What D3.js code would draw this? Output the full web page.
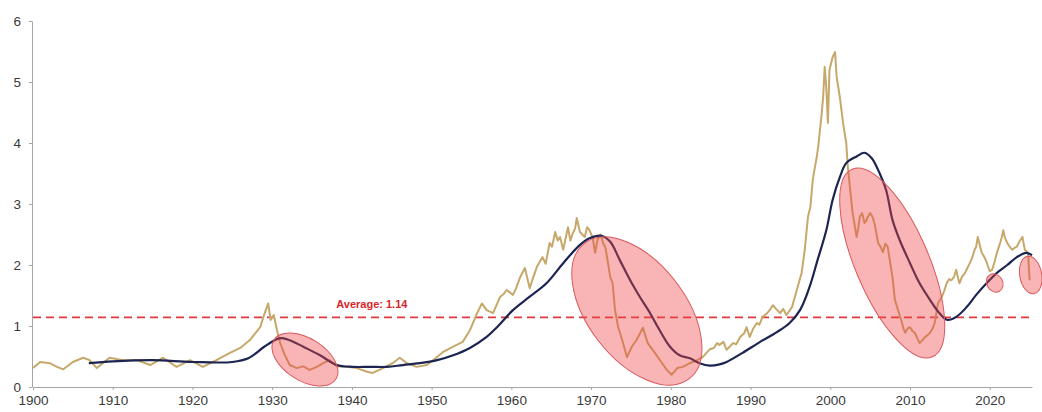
<!DOCTYPE html>
<html>
<head>
<meta charset="utf-8">
<script src="https://cdn.jsdelivr.net/npm/d3@7"></script>
<style>
  html, body { margin: 0; padding: 0; background: #ffffff; }
  svg { display: block; }
  text { font-family: "Liberation Sans", Arial, sans-serif; }
</style>
</head>
<body>
<svg id="chart" width="1042" height="412"></svg>
<script>
// ---------- data ----------
const goldYears = [1900.0,1900.9,1902.1,1903.0,1903.8,1905.0,1906.3,1907.1,1908.0,1909.6,1911.3,1913.0,1914.7,1916.3,1918.0,1919.7,1921.3,1923.0,1924.7,1926.0,1927.2,1928.5,1928.9,1929.5,1929.8,1930.2,1930.6,1931.0,1931.6,1932.2,1933.1,1933.9,1934.7,1935.6,1936.4,1937.2,1938.1,1939.4,1940.6,1941.9,1942.6,1943.9,1945.1,1946.0,1946.9,1948.1,1949.4,1950.2,1951.4,1952.7,1953.9,1954.8,1955.7,1956.3,1956.9,1957.7,1958.6,1959.0,1959.4,1960.2,1960.6,1961.1,1961.7,1962.3,1962.7,1963.2,1963.9,1964.3,1964.8,1965.1,1965.5,1965.8,1966.1,1966.5,1967.1,1967.4,1967.7,1968.0,1968.2,1968.6,1969.2,1969.5,1969.8,1970.2,1970.5,1970.8,1971.2,1971.5,1971.8,1972.0,1972.4,1972.7,1973.0,1973.4,1973.9,1974.5,1975.1,1975.7,1976.5,1977.1,1978.0,1978.9,1979.5,1980.1,1980.8,1981.5,1982.4,1983.3,1984.0,1984.9,1985.4,1985.8,1986.1,1986.6,1987.0,1987.8,1988.2,1988.7,1989.2,1989.5,1989.9,1990.3,1990.8,1991.1,1991.5,1992.0,1992.4,1992.8,1993.2,1993.7,1994.1,1994.5,1995.2,1995.8,1996.4,1996.8,1997.2,1997.5,1997.8,1998.0,1998.3,1998.5,1998.7,1998.9,1999.1,1999.3,1999.5,1999.7,1999.9,2000.3,2000.6,2000.8,2001.2,2001.6,2002.0,2002.2,2002.8,2003.0,2003.3,2003.5,2003.7,2004.0,2004.3,2004.5,2004.7,2005.0,2005.3,2005.6,2006.0,2006.3,2006.6,2006.9,2007.2,2007.5,2007.8,2008.1,2008.5,2009.0,2009.2,2009.4,2009.7,2010.0,2010.3,2010.6,2011.2,2011.5,2011.9,2012.2,2012.5,2012.8,2013.1,2013.5,2014.0,2014.3,2014.6,2014.9,2015.2,2015.5,2015.8,2016.0,2016.2,2016.5,2016.9,2017.2,2017.5,2017.8,2018.1,2018.3,2018.5,2018.8,2019.0,2019.2,2019.4,2019.6,2019.8,2020.0,2020.3,2020.6,2020.9,2021.1,2021.3,2021.5,2021.7,2021.9,2022.2,2022.5,2022.8,2023.1,2023.4,2023.7,2024.1,2024.25,2024.4,2024.8,2025.0];
const goldValues = [0.31,0.41,0.39,0.33,0.29,0.41,0.48,0.44,0.31,0.48,0.44,0.44,0.36,0.48,0.33,0.44,0.33,0.44,0.56,0.64,0.77,0.98,1.15,1.37,1.10,1.18,0.93,0.72,0.52,0.36,0.31,0.34,0.28,0.33,0.39,0.44,0.34,0.33,0.31,0.25,0.23,0.31,0.39,0.48,0.39,0.33,0.36,0.44,0.57,0.66,0.74,0.93,1.21,1.37,1.26,1.21,1.48,1.52,1.59,1.51,1.62,1.80,1.95,1.62,1.78,1.97,2.13,2.02,2.36,2.30,2.54,2.40,2.46,2.25,2.62,2.40,2.52,2.60,2.77,2.54,2.46,2.62,2.57,2.45,2.20,2.41,2.50,2.36,2.28,2.13,1.80,1.70,1.26,0.98,0.77,0.49,0.66,0.77,0.97,0.72,0.56,0.39,0.28,0.20,0.31,0.33,0.39,0.44,0.49,0.62,0.64,0.72,0.69,0.74,0.61,0.72,0.70,0.82,0.88,0.98,0.82,0.95,1.05,1.02,1.15,1.20,1.26,1.34,1.28,1.21,1.28,1.18,1.31,1.59,1.87,2.25,2.79,2.95,3.39,3.55,3.77,3.95,4.21,4.45,4.75,5.25,4.90,4.33,5.20,5.41,5.49,5.08,4.75,4.33,4.00,3.61,2.85,2.70,2.46,2.60,2.79,2.85,2.69,2.72,2.79,2.85,2.79,2.65,2.36,2.30,2.21,2.35,2.30,2.05,1.80,1.43,1.26,1.05,0.95,0.89,0.96,0.98,0.92,0.89,0.72,0.76,0.82,0.85,0.89,0.95,1.05,1.37,1.48,1.58,1.70,1.77,1.75,1.80,1.92,1.80,1.70,1.80,1.87,1.95,2.03,2.12,2.25,2.30,2.46,2.30,2.20,2.16,2.11,2.05,1.97,1.90,1.92,2.05,2.20,2.28,2.36,2.45,2.57,2.45,2.36,2.30,2.25,2.28,2.30,2.38,2.46,2.35,2.25,2.20,1.75];

const avgYears = [1907.0,1910.0,1915.0,1920.0,1925.0,1927.0,1929.0,1930.5,1931.2,1932.5,1933.9,1936.0,1938.1,1940.1,1942.3,1944.4,1946.4,1948.5,1950.7,1952.7,1954.8,1956.9,1958.2,1960.2,1962.3,1964.4,1966.5,1968.6,1969.8,1971.3,1972.4,1973.6,1974.9,1976.1,1977.4,1978.6,1979.9,1981.1,1982.4,1983.6,1984.9,1986.1,1987.0,1989.0,1991.2,1993.3,1994.9,1996.2,1997.4,1998.4,1999.5,2000.3,2001.2,2002.0,2003.3,2004.3,2005.2,2006.2,2007.0,2007.8,2008.7,2010.0,2011.2,2012.5,2013.7,2014.7,2015.8,2017.1,2018.3,2019.6,2020.9,2022.2,2023.4,2024.6,2025.3];
const avgValues = [0.39,0.42,0.44,0.41,0.41,0.47,0.66,0.78,0.80,0.75,0.66,0.52,0.36,0.33,0.33,0.33,0.36,0.39,0.44,0.52,0.64,0.82,0.98,1.26,1.48,1.70,2.03,2.33,2.44,2.48,2.38,2.08,1.75,1.48,1.21,0.93,0.66,0.52,0.47,0.39,0.35,0.37,0.41,0.56,0.74,0.90,1.05,1.26,1.64,2.08,2.57,3.07,3.44,3.67,3.78,3.84,3.75,3.50,3.23,2.74,2.41,2.03,1.70,1.43,1.21,1.10,1.15,1.31,1.51,1.70,1.87,2.00,2.13,2.20,2.16];

const averageValue = 1.14;
const averageLabel = "Average: 1.14";
const averageLabelYear = 1942.5;

const xTicks = [1900,1910,1920,1930,1940,1950,1960,1970,1980,1990,2000,2010,2020];
const yTicks = [0,1,2,3,4,5,6];

// highlighted episodes: centre (year, value), end of major axis (year, value), minor/major ratio
const highlightCenters = [[1934.11,0.451],[1975.74,1.246],[2007.77,2.033],[2020.63,1.705],[2025.14,1.836]];
const highlightTips    = [[1938.00,0.130],[1982.31,0.136],[2012.81,0.495],[2021.22,1.570],[2025.55,1.530]];
const highlightRatios  = [0.575,0.569,0.36,0.84,0.58];

// ---------- drawing ----------
const svg = d3.select("#chart");
const x = d3.scaleLinear().domain([1900, 2025.3]).range([33, 1032]);
const y = d3.scaleLinear().domain([0, 6]).range([387, 21]);

const axisColor = "#a6a6a6";
const labelColor = "#3a3a3a";

// x axis
const xAxis = svg.append("g").attr("transform", `translate(0,${y(0)})`)
  .call(d3.axisBottom(x).tickValues(xTicks).tickFormat(d3.format("d")).tickSize(3).tickSizeOuter(0));
xAxis.select(".domain").attr("stroke", axisColor);
xAxis.selectAll(".tick line").attr("stroke", axisColor);
xAxis.selectAll(".tick text").attr("fill", labelColor).attr("font-size", 13.5).attr("dy", "0.92em");

// y axis
const yAxis = svg.append("g").attr("transform", `translate(${x(1900) - 1},0)`)
  .call(d3.axisLeft(y).tickValues(yTicks).tickFormat(d3.format("d")).tickSize(3).tickSizeOuter(0).tickPadding(8));
yAxis.select(".domain").attr("stroke", axisColor);
yAxis.selectAll(".tick line").attr("stroke", axisColor);
yAxis.selectAll(".tick text").attr("fill", labelColor).attr("font-size", 13.5);

// average line
svg.append("line")
  .attr("x1", x(1900)).attr("x2", x.range()[1])
  .attr("y1", y(averageValue)).attr("y2", y(averageValue))
  .attr("stroke", "#e0393e").attr("stroke-width", 1.8).attr("stroke-dasharray", "8,5");
svg.append("text")
  .attr("x", x(averageLabelYear)).attr("y", y(averageValue) - 9)
  .attr("text-anchor", "middle").attr("font-size", 11).attr("font-weight", "bold")
  .attr("fill", "#d9262b").text(averageLabel);

// gold ratio line
const gold = goldYears.map((yr, i) => [yr, goldValues[i]]).sort((a, b) => a[0] - b[0]);
svg.append("path").datum(gold)
  .attr("fill", "none").attr("stroke", "#c6a86a").attr("stroke-width", 2).attr("stroke-linejoin", "round")
  .attr("d", d3.line().x(d => x(d[0])).y(d => y(d[1])));

// moving average line
const avg = avgYears.map((yr, i) => [yr, avgValues[i]]);
svg.append("path").datum(avg)
  .attr("fill", "none").attr("stroke", "#1c2452").attr("stroke-width", 2.2)
  .attr("d", d3.line().curve(d3.curveCatmullRom.alpha(0.5)).x(d => x(d[0])).y(d => y(d[1])));

// highlight ellipses
highlightCenters.forEach((c, i) => {
  const cx = x(c[0]), cy = y(c[1]);
  const tx = x(highlightTips[i][0]), ty = y(highlightTips[i][1]);
  const a = Math.hypot(tx - cx, ty - cy);
  const ang = Math.atan2(ty - cy, tx - cx) * 180 / Math.PI;
  svg.append("ellipse")
    .attr("cx", 0).attr("cy", 0).attr("rx", a).attr("ry", a * highlightRatios[i])
    .attr("transform", `translate(${cx},${cy}) rotate(${ang})`)
    .attr("fill", "rgba(240,70,70,0.40)")
    .attr("stroke", "#d9575b").attr("stroke-width", 1);
});
</script>
</body>
</html>
